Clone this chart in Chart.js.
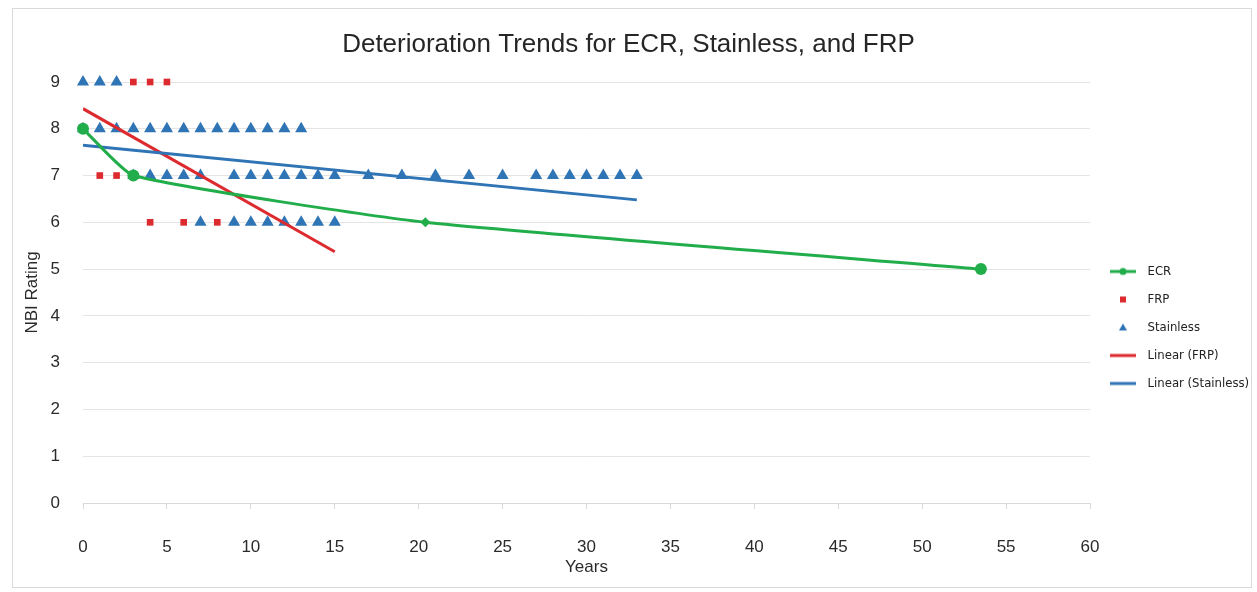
<!DOCTYPE html>
<html>
<head>
<meta charset="utf-8">
<title>Deterioration Trends</title>
<script src="https://cdn.jsdelivr.net/npm/chart.js@4.4.1/dist/chart.umd.min.js"></script>
<style>
  html, body { margin: 0; padding: 0; background: #fff; }
  #wrap { position: relative; width: 1257px; height: 592px; }
  #frame { position: absolute; left: 12px; top: 8px; width: 1238px; height: 578px; border: 1px solid #d9d9d9; pointer-events: none; }
  canvas { position: absolute; left: 0; top: 0; }
</style>
</head>
<body>
<div id="wrap">
  <div id="frame"></div>
  <canvas id="myChart" width="1257" height="592"></canvas>
</div>
<script>
// ECR (line with markers)
const ecrYears = [0, 3, 20.4, 53.5];
const ecrRatings = [8, 7, 6, 5];

// FRP (red squares)
const frpYears = [3, 4, 5, 1, 2, 4, 6, 8];
const frpRatings = [9, 9, 9, 7, 7, 6, 6, 6];

// Stainless (blue triangles), grouped by rating
const stainless9 = [0, 1, 2];
const stainless8 = [0, 1, 2, 3, 4, 5, 6, 7, 8, 9, 10, 11, 12, 13];
const stainless7 = [3, 4, 5, 6, 7, 9, 10, 11, 12, 13, 14, 15, 17, 19, 21, 23, 25, 27, 28, 29, 30, 31, 32, 33];
const stainless6 = [7, 9, 10, 11, 12, 13, 14, 15];

// trendline end points
const frpTrendYears = [0, 15];
const frpTrendRatings = [8.43, 5.37];
const stainlessTrendYears = [0, 33];
const stainlessTrendRatings = [7.65, 6.48];

const green = "#22ad4b";
const red = "#dd2a2e";
const blue = "#2f74b5";

const toPoints = (xs, ys) => xs.map((x, i) => ({ x: x, y: ys[i] }));
const atRating = (xs, r) => xs.map((x) => ({ x: x, y: r }));

const stainlessPoints = [].concat(
  atRating(stainless9, 9),
  atRating(stainless8, 8),
  atRating(stainless7, 7),
  atRating(stainless6, 6)
);

// small canvases used as legend icons
const makeIcon = (draw) => {
  const c = document.createElement("canvas");
  c.width = 28;
  c.height = 12;
  draw(c.getContext("2d"));
  return c;
};
const lineIcon = (color, dot) =>
  makeIcon((g) => {
    g.strokeStyle = color;
    g.lineWidth = 3;
    g.beginPath();
    g.moveTo(1, 6);
    g.lineTo(27, 6);
    g.stroke();
    if (dot) {
      g.fillStyle = color;
      g.beginPath();
      g.arc(14, 6, 3.5, 0, Math.PI * 2);
      g.fill();
    }
  });
const icons = [
  lineIcon(green, true),
  makeIcon((g) => {
    g.fillStyle = red;
    g.fillRect(11, 3, 6, 6);
  }),
  makeIcon((g) => {
    g.fillStyle = blue;
    g.beginPath();
    g.moveTo(14, 2);
    g.lineTo(18, 9);
    g.lineTo(10, 9);
    g.closePath();
    g.fill();
  }),
  lineIcon(red, false),
  lineIcon(blue, false),
];

const legendPlacer = {
  id: "legendPlacer",
  beforeInit(chart) {
    const fit = chart.legend.fit;
    chart.legend.fit = function () {
      fit.call(this);
      this.width = 167;
    };
  },
  afterLayout(chart) {
    chart.legend.top = 250;
  },
};

const tickFont = { family: "'Liberation Sans', Arial, sans-serif", size: 17 };

const ctx = document.getElementById("myChart");

const chart = new Chart(ctx, {
  type: "scatter",
  data: {
    datasets: [
      {
        label: "ECR",
        data: toPoints(ecrYears, ecrRatings),
        showLine: true,
        borderColor: green,
        backgroundColor: green,
        borderWidth: 3,
        tension: 0.15,
        pointRadius: [6, 6, 5, 6],
        pointStyle: ["circle", "circle", "rectRot", "circle"],
        pointBorderWidth: 0,
        clip: false,
        order: 0,
      },
      {
        label: "FRP",
        data: toPoints(frpYears, frpRatings),
        backgroundColor: red,
        borderColor: red,
        pointStyle: "rect",
        pointRadius: 4.7,
        pointBorderWidth: 0,
        clip: false,
        order: 3,
      },
      {
        label: "Stainless",
        data: stainlessPoints,
        backgroundColor: blue,
        borderColor: blue,
        pointStyle: "triangle",
        pointRadius: 7,
        pointBorderWidth: 0,
        clip: false,
        order: 4,
      },
      {
        label: "Linear (FRP)",
        data: toPoints(frpTrendYears, frpTrendRatings),
        showLine: true,
        borderColor: red,
        backgroundColor: red,
        borderWidth: 3,
        pointRadius: 0,
        order: 2,
      },
      {
        label: "Linear (Stainless)",
        data: toPoints(stainlessTrendYears, stainlessTrendRatings),
        showLine: true,
        borderColor: blue,
        backgroundColor: blue,
        borderWidth: 3,
        pointRadius: 0,
        order: 1,
      },
    ],
  },
  options: {
    responsive: false,
    animation: false,
    layout: { padding: 0 },
    scales: {
      x: {
        type: "linear",
        min: 0,
        max: 60,
        afterFit: (s) => { s.height = 89; },
        ticks: { stepSize: 5, font: tickFont, color: "#2b2b2b", padding: 28, maxRotation: 0 },
        grid: { drawOnChartArea: false, drawTicks: true, tickLength: 6, color: "#d9d9d9" },
        border: { color: "#d9d9d9" },
        title: {
          display: true,
          text: "Years",
          font: tickFont,
          color: "#2b2b2b",
          padding: { top: 0, bottom: 14 },
        },
      },
      y: {
        min: 0,
        max: 9,
        afterFit: (s) => { s.width = 83; },
        ticks: { stepSize: 1, font: tickFont, color: "#2b2b2b", padding: 23 },
        grid: { color: "#e4e4e4", drawTicks: false },
        border: { display: false },
        title: {
          display: true,
          text: "NBI Rating",
          font: tickFont,
          color: "#2b2b2b",
          padding: { top: 22, bottom: 0 },
        },
      },
    },
    plugins: {
      title: {
        display: true,
        text: "Deterioration Trends for ECR, Stainless, and FRP",
        font: { family: "'Liberation Sans', Arial, sans-serif", size: 26, weight: "normal" },
        color: "#262626",
        padding: { top: 29, bottom: 21.8 },
      },
      legend: {
        position: "right",
        align: "start",
        labels: {
          font: { family: "'Liberation Sans Narrow', 'DejaVu Sans Condensed', sans-serif", size: 13 },
          color: "#222",
          usePointStyle: true,
          pointStyleWidth: 36,
          padding: 15,
          sort: (a, b) => a.datasetIndex - b.datasetIndex,
          generateLabels: (c) => {
            const items = Chart.defaults.plugins.legend.labels.generateLabels(c);
            items.forEach((item) => { item.pointStyle = icons[item.datasetIndex]; });
            return items;
          },
        },
      },
      tooltip: { enabled: false },
    },
  },
  plugins: [legendPlacer],
});
</script>
</body>
</html>
